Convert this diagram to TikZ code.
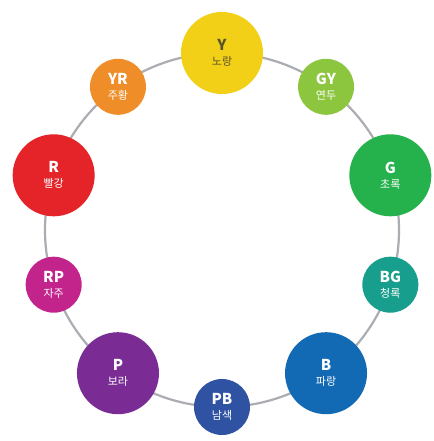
\documentclass[tikz,border=0pt]{standalone}
\usepackage{fontspec}
\newfontfamily\kr{Noto Sans CJK KR}
\definecolor{cY}{HTML}{F2D018}
\definecolor{cGY}{HTML}{8CC63F}
\definecolor{cG}{HTML}{25B14B}
\definecolor{cBG}{HTML}{179E8C}
\definecolor{cB}{HTML}{126AB4}
\definecolor{cPB}{HTML}{2F52A3}
\definecolor{cP}{HTML}{7A2C94}
\definecolor{cRP}{HTML}{C3248C}
\definecolor{cR}{HTML}{E42429}
\definecolor{cYR}{HTML}{EF8D29}
\definecolor{ring}{HTML}{ACADB3}
\definecolor{ytext}{HTML}{5A5228}
\tikzset{
  big/.style={circle, minimum size=82pt, inner sep=0pt, text=white, align=center},
  small/.style={circle, minimum size=56pt, inner sep=0pt, text=white, align=center},
  ringline/.style={draw=ring, line width=2.2pt},
}
\newcommand{\lbl}[2]{{\kr\bfseries\fontsize{15}{15}\selectfont #1}\\[3pt]{\kr\fontsize{11}{11}\selectfont #2}}
\begin{document}
\begin{tikzpicture}[x=1pt,y=-1pt]
\useasboundingbox (0,0) rectangle (433,441);
\fill[white] (0,0) rectangle (433,441);
\coordinate (c) at (222,230);
\draw[ringline] (c) circle[radius=177pt];
\node[big, fill=cY, text=ytext] (Y) at ([shift={(90:177pt)}]c) {\lbl{Y}{노랑}};
\node[small, fill=cGY] (GY) at ([shift={(54:177pt)}]c) {\lbl{GY}{연두}};
\node[big, fill=cG] (G) at ([shift={(18:177pt)}]c) {\lbl{G}{초록}};
\node[small, fill=cBG] (BG) at ([shift={(-18:177pt)}]c) {\lbl{BG}{청록}};
\node[big, fill=cB] (B) at ([shift={(-54:177pt)}]c) {\lbl{B}{파랑}};
\node[small, fill=cPB] (PB) at ([shift={(-90:177pt)}]c) {\lbl{PB}{남색}};
\node[big, fill=cP] (P) at ([shift={(-126:177pt)}]c) {\lbl{P}{보라}};
\node[small, fill=cRP] (RP) at ([shift={(-162:177pt)}]c) {\lbl{RP}{자주}};
\node[big, fill=cR] (R) at ([shift={(162:177pt)}]c) {\lbl{R}{빨강}};
\node[small, fill=cYR] (YR) at ([shift={(126:177pt)}]c) {\lbl{YR}{주황}};
\end{tikzpicture}
\end{document}
